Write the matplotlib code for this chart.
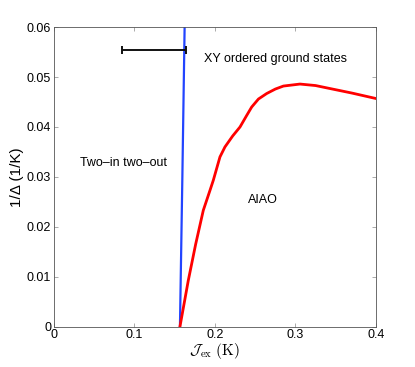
import numpy as np
import matplotlib
matplotlib.use("Agg")
import matplotlib.pyplot as plt

plt.rcParams['font.family'] = ['Liberation Sans', 'DejaVu Sans']
plt.rcParams['mathtext.fontset'] = 'cm'

# phase boundaries
blue_J = [0.1565, 0.1595, 0.1623]
blue_y = [0.0, 0.03, 0.06]

red_J = [0.1565, 0.1668, 0.1760, 0.1855, 0.1938, 0.1979, 0.2062, 0.2124,
         0.2220, 0.2311, 0.2390, 0.2456, 0.2540, 0.2642, 0.2750, 0.2850,
         0.3056, 0.3250, 0.3429, 0.3700, 0.4000]
red_y = [0.0, 0.0092, 0.0165, 0.0233, 0.0273, 0.0293, 0.0340, 0.0360,
         0.0382, 0.0400, 0.0422, 0.0440, 0.0456, 0.0467, 0.0476, 0.0482,
         0.0486, 0.0483, 0.0477, 0.0468, 0.0457]

# error bar on the critical coupling
err_J = 0.1243
err_y = 0.0554
err_dJ = 0.0394

xticks = [0, 0.1, 0.2, 0.3, 0.4]
xticklabels = ['0', '0.1', '0.2', '0.3', '0.4']
yticks = [0, 0.01, 0.02, 0.03, 0.04, 0.05, 0.06]
yticklabels = ['0', '0.01', '0.02', '0.03', '0.04', '0.05', '0.06']

fig = plt.figure(figsize=(4.15, 3.67), dpi=100)
ax = fig.add_axes([0.130, 0.110, 0.776, 0.816])

ax.plot(blue_J, blue_y, color='#2244ff', lw=1.6)
ax.plot(red_J, red_y, color='red', lw=2.0)
ax.errorbar([err_J], [err_y], xerr=[err_dJ], color='#111111', lw=1.4,
            capsize=3, capthick=1.4)

ax.text(0.032, 0.0327, 'Two\u2013in two\u2013out', fontsize=9, va='center')
ax.text(0.186, 0.0537, 'XY ordered ground states', fontsize=9, va='center')
ax.text(0.241, 0.0253, 'AIAO', fontsize=9, va='center')

ax.set_xlim(0, 0.4)
ax.set_ylim(0, 0.06)
ax.set_xticks(xticks)
ax.set_xticklabels(xticklabels)
ax.set_yticks(yticks)
ax.set_yticklabels(yticklabels)
ax.tick_params(direction='in', top=True, right=True, labelsize=9,
               length=3, width=0.5, color='#888888', pad=2)
for s in ax.spines.values():
    s.set_linewidth(0.6)
    s.set_color('#555555')

ax.set_xlabel(r'$\mathcal{J}_{\mathrm{ex}}\ (\mathrm{K})$', fontsize=11, labelpad=0)
ax.set_ylabel('1/\u0394 (1/K)', fontsize=11, labelpad=2)

fig.savefig('out.png', dpi=100)
